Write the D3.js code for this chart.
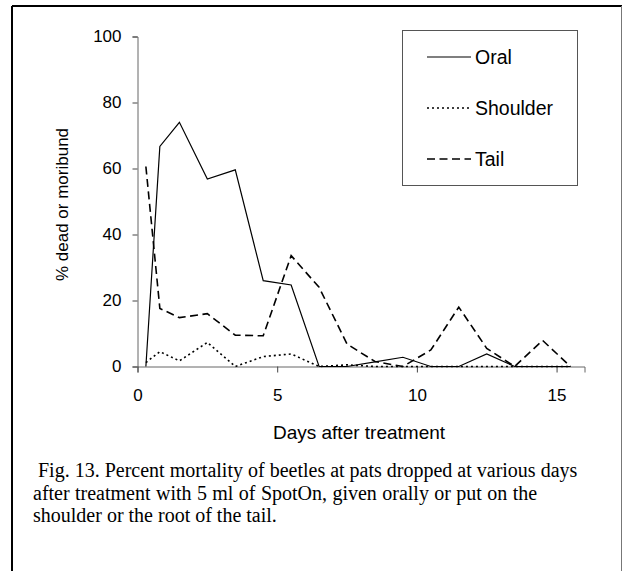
<!DOCTYPE html>
<html>
<head>
<meta charset="utf-8">
<script src="https://cdn.jsdelivr.net/npm/d3@7"></script>
<style>
  body { margin: 0; background: #fff; }
  svg { display: block; }
</style>
</head>
<body>
<svg width="624" height="571"></svg>
<script>
const days = [0.3, 0.8, 1.5, 2.5, 3.5, 4.5, 5.5, 6.5, 7.5, 8.5, 9.5, 10.5, 11.5, 12.5, 13.5, 14.5, 15.5];
const oral = [0, 66.7, 74, 56.8, 59.6, 26, 24.7, 0, 0, 1.4, 2.8, 0, 0, 3.8, 0, 0, 0];
const shoulder = [1.2, 4.5, 1.7, 7.3, 0, 3, 3.8, 0, 0.5, 0, 0, 0, 0, 0, 0, 0, 0];
const tail = [60.6, 17.6, 14.8, 16, 9.5, 9.3, 33.6, 24, 6.8, 1.5, 0, 5, 18, 5.5, 0, 7.9, 0];
const xTicks = [0, 5, 10, 15];
const yTicks = [0, 20, 40, 60, 80, 100];
const seriesNames = ['Oral', 'Shoulder', 'Tail'];

const series = [
  { name: seriesNames[0], values: oral, dash: null, width: 1.2 },
  { name: seriesNames[1], values: shoulder, dash: '2,3', width: 1.6 },
  { name: seriesNames[2], values: tail, dash: '8,4.5', width: 1.6 }
];

const sans = 'Liberation Sans, Arial, sans-serif';
const svg = d3.select('svg');

// outer frame
svg.append('line').attr('x1', 12).attr('x2', 622).attr('y1', 6).attr('y2', 6)
  .attr('stroke', '#000').attr('stroke-width', 2);
svg.append('line').attr('x1', 12).attr('x2', 12).attr('y1', 6).attr('y2', 571)
  .attr('stroke', '#000').attr('stroke-width', 2);
svg.append('line').attr('x1', 621.5).attr('x2', 621.5).attr('y1', 6).attr('y2', 571)
  .attr('stroke', '#777').attr('stroke-width', 1);

const x = d3.scaleLinear().domain([0, 16]).range([137.5, 584.5]);
const y = d3.scaleLinear().domain([0, 100]).range([366.5, 36.5]);

const gx = svg.append('g')
  .attr('transform', `translate(0,${y(0)})`)
  .call(d3.axisBottom(x).tickValues(xTicks).tickSize(6).tickPadding(16));
const gy = svg.append('g')
  .attr('transform', `translate(${x(0)},0)`)
  .call(d3.axisLeft(y).tickValues(yTicks).tickSize(5).tickPadding(11));

[gx, gy].forEach(g => {
  g.select('.domain').attr('stroke', '#666');
  g.selectAll('.tick line').attr('stroke', '#444');
  g.selectAll('text')
    .attr('font-family', sans)
    .attr('font-size', 17)
    .attr('fill', '#000');
});

svg.append('text')
  .attr('x', x(8) - 2).attr('y', 439)
  .attr('text-anchor', 'middle')
  .attr('font-family', sans)
  .attr('font-size', 19)
  .text('Days after treatment');

svg.append('text')
  .attr('transform', `translate(68,${y(50) + 3}) rotate(-90)`)
  .attr('text-anchor', 'middle')
  .attr('font-family', sans)
  .attr('font-size', 17)
  .text('% dead or moribund');

const line = d3.line()
  .x((d, i) => x(days[i]))
  .y(d => y(d));

svg.append('g')
  .selectAll('path')
  .data(series)
  .join('path')
  .attr('d', d => line(d.values))
  .attr('fill', 'none')
  .attr('stroke', '#000')
  .attr('stroke-width', d => d.width)
  .attr('stroke-dasharray', d => d.dash);

// legend
const legend = svg.append('g');
legend.append('rect')
  .attr('x', 402.5).attr('y', 30.5).attr('width', 175).attr('height', 155)
  .attr('fill', '#fff').attr('stroke', '#555').attr('stroke-width', 1);
const item = legend.selectAll('g.item')
  .data(series)
  .join('g')
  .attr('class', 'item')
  .attr('transform', (d, i) => `translate(0,${57 + i * 51})`);
item.append('line')
  .attr('x1', 427).attr('x2', 471).attr('y1', 0).attr('y2', 0)
  .attr('stroke', '#000')
  .attr('stroke-width', d => d.width)
  .attr('stroke-dasharray', d => d.dash);
item.append('text')
  .attr('x', 475).attr('y', 0).attr('dy', '0.35em')
  .attr('font-family', sans)
  .attr('font-size', 19.5)
  .text(d => d.name);

// caption
const caption = [
  ' Fig. 13. Percent mortality of beetles at pats dropped at various days',
  'after treatment with 5 ml of SpotOn, given orally or put on the',
  'shoulder or the root of the tail.'
];
svg.append('g')
  .selectAll('text')
  .data(caption)
  .join('text')
  .attr('x', 33)
  .attr('y', (d, i) => 477 + i * 22.5)
  .attr('xml:space', 'preserve')
  .attr('word-spacing', (d, i) => i === 1 ? 0.4 : 0)
  .attr('font-family', 'Liberation Serif, Times New Roman, serif')
  .attr('font-size', 20)
  .text(d => d);
</script>
</body>
</html>
